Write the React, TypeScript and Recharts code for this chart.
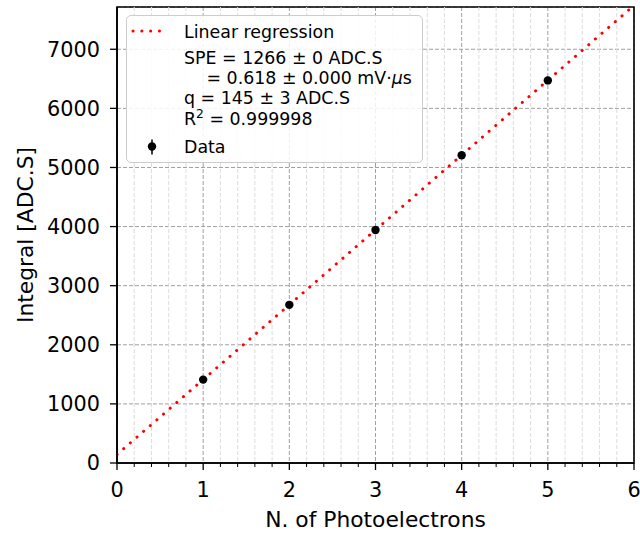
import React from 'react';
import {
  ComposedChart, XAxis, YAxis, CartesianGrid, Line, Scatter, ErrorBar,
  ReferenceLine, ReferenceArea, Legend,
} from 'recharts';

// ---- data ----
const nPhotoelectrons = [1, 2, 3, 4, 5];
const integralValues = [1411, 2676, 3942, 5206, 6473];
const integralErrors = [15, 15, 15, 15, 15];
const fitX = [0, 6];
const fitY = [145, 7741];
const xTicks = [0, 1, 2, 3, 4, 5, 6];
const xMinorTicks = [0.2, 0.4, 0.6, 0.8, 1.2, 1.4, 1.6, 1.8, 2.2, 2.4, 2.6, 2.8, 3.2, 3.4, 3.6, 3.8,
  4.2, 4.4, 4.6, 4.8, 5.2, 5.4, 5.6, 5.8];
const yTicks = [0, 1000, 2000, 3000, 4000, 5000, 6000, 7000];
const xDomain = [0, 6];
const yDomain = [0, 7715];
const legendLines = {
  fit: 'Linear regression',
  spe: 'SPE = 1266 ± 0 ADC.S',
  speMv: '= 0.618 ± 0.000 mV·',
  q: 'q = 145 ± 3 ADC.S',
  r2: ' = 0.999998',
  data: 'Data',
};

const scatterData = nPhotoelectrons.map((x, i) => ({ x, y: integralValues[i], err: integralErrors[i] }));
const fitData = fitX.map((x, i) => ({ x, fit: fitY[i] }));

const FONT = 'DejaVu Sans';
const RED = '#ff0000';

const MinorLine = (p: any) => {
  const top = Math.min(p.y1, p.y2);
  const bottom = Math.max(p.y1, p.y2);
  return (
    <g>
      <line x1={p.x1} x2={p.x1} y1={top} y2={bottom} stroke="#dcdcdc" strokeWidth={1} strokeDasharray="4 2" />
      <line x1={p.x1} x2={p.x1} y1={bottom} y2={bottom + 4} stroke="#000" strokeWidth={1} />
    </g>
  );
};

const Dot = (p: any) => <circle cx={p.cx} cy={p.cy} r={4.2} fill="#000" />;

const LegendBox = () => (
  <div
    style={{
      width: 297, height: 148, boxSizing: 'border-box', border: '1.3px solid #cccccc',
      borderRadius: 5, background: 'rgba(255,255,255,0.85)', position: 'relative',
    }}
  >
    <svg width={297} height={148} style={{ position: 'absolute', left: -1, top: -1 }}>
      <line x1={7} x2={36} y1={16} y2={16} stroke={RED} strokeWidth={3} strokeDasharray="0.1 8.7" strokeLinecap="round" />
      <g fontFamily={FONT} fontSize={17.4} fill="#000">
        <text x={58} y={22.5}>{legendLines.fit}</text>
        <text x={58} y={49}>{legendLines.spe}</text>
        <text x={80.5} y={69}>
          {legendLines.speMv}
          <tspan fontStyle="italic">μ</tspan>
          s
        </text>
        <text x={58} y={89}>{legendLines.q}</text>
        <text x={58} y={109.5}>
          R<tspan fontSize={12.2} dy={-7}>2</tspan>
          <tspan dy={7}>{legendLines.r2}</tspan>
        </text>
        <text x={58} y={138}>{legendLines.data}</text>
      </g>
      <line x1={26} x2={26} y1={124.5} y2={139.5} stroke="#000" strokeWidth={1.5} />
      <circle cx={26} cy={131.5} r={4.2} fill="#000" />
    </svg>
  </div>
);

const YLabel = (props: any) => {
  const vb = props.viewBox || {};
  const cx = (vb.x || 0) + 25;
  const cy = (vb.y || 0) + (vb.height || 0) / 2;
  return (
    <text
      x={cx} y={cy} transform={`rotate(-90 ${cx} ${cy})`} textAnchor="middle"
      dominantBaseline="central" fontFamily={FONT} fontSize={21.8} fill="#000"
    >
      Integral [ADC.S]
    </text>
  );
};

export default function App() {
  return (
    <div style={{ position: 'absolute', left: 0, top: 0 }}>
      <ComposedChart width={640} height={536} margin={{ top: 7, right: 6, left: 0, bottom: 0 }}>
        <CartesianGrid stroke="#a0a0a0" strokeDasharray="4 2" strokeWidth={1} />
        {xMinorTicks.map((v) => (
          <ReferenceLine key={v} x={v} shape={MinorLine} />
        ))}
        <XAxis
          dataKey="x" type="number" domain={xDomain} ticks={xTicks} allowDataOverflow
          height={73} tickSize={7} tickMargin={12}
          axisLine={{ stroke: '#000', strokeWidth: 1.6 }}
          tickLine={{ stroke: '#000', strokeWidth: 1.3 }}
          tick={{ fill: '#000', fontSize: 20.8, fontFamily: FONT }}
          label={{ value: 'N. of Photoelectrons', position: 'insideBottom', offset: 9, fill: '#000', fontSize: 21.8, fontFamily: FONT }}
        />
        <YAxis
          type="number" domain={yDomain} ticks={yTicks} allowDataOverflow
          width={117} tickSize={7} tickMargin={10}
          axisLine={{ stroke: '#000', strokeWidth: 1.6 }}
          tickLine={{ stroke: '#000', strokeWidth: 1.3 }}
          tick={{ fill: '#000', fontSize: 20.8, fontFamily: FONT }}
          label={<YLabel />}
        />
        <Line
          data={fitData} dataKey="fit" type="linear" stroke={RED} strokeWidth={3}
          strokeDasharray="0.1 8.7" strokeLinecap="round" dot={false} activeDot={false}
          isAnimationActive={false} legendType="none"
        />
        <Scatter data={scatterData} dataKey="y" shape={Dot} isAnimationActive={false} legendType="none">
          <ErrorBar dataKey="err" direction="y" width={0} stroke="#000" strokeWidth={1.5} isAnimationActive={false} />
        </Scatter>
        <ReferenceArea x1={xDomain[0]} x2={xDomain[1]} y1={yDomain[0]} y2={yDomain[1]} fill="none" stroke="#000" strokeWidth={1.6} />
        <Legend
          layout="vertical" align="center" verticalAlign="middle" content={<LegendBox />}
          wrapperStyle={{ left: 126, top: 15, width: 297, height: 148 }}
        />
      </ComposedChart>
    </div>
  );
}
